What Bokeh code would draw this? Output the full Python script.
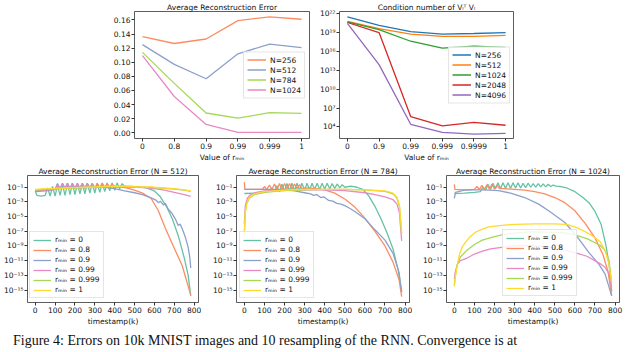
from bokeh.plotting import figure
from bokeh.layouts import column, row
from bokeh.models import (Range1d, FixedTicker, CustomJSTickFormatter, NumeralTickFormatter,
                          Legend, LegendItem, Div)
from bokeh.embed import file_html
from bokeh.resources import INLINE

# ---------------- data ----------------
# top-left: average reconstruction error vs r_min
err_labels = ["0", "0.8", "0.9", "0.99", "0.999", "1"]
err_n256 = [0.1365, 0.1266, 0.133, 0.159, 0.1645, 0.161]
err_n512 = [0.125, 0.097, 0.0766, 0.112, 0.1257, 0.1207]
err_n784 = [0.114, 0.070, 0.028, 0.0207, 0.0284, 0.0275]
err_n1024 = [0.1095, 0.0514, 0.0118, 0.0004, 0.0004, 0.0004]
err_ticks = [0.0, 0.02, 0.04, 0.06, 0.08, 0.10, 0.12, 0.14, 0.16]

# top-right: condition number (log10) vs r_min
cond_labels = ["0", "0.9", "0.99", "0.999", "0.9999", "1"]
cond_n256 = [21.48, 20.15, 19.16, 18.76, 18.85, 19.0]
cond_n512 = [20.77, 19.63, 18.76, 18.39, 18.39, 18.54]
cond_n1024 = [20.7, 19.47, 17.62, 16.54, 16.85, 16.65]
cond_n2048 = [20.6, 19.0, 5.64, 4.15, 4.72, 4.26]
cond_n4096 = [20.46, 13.9, 4.41, 3.11, 2.86, 2.96]
cond_tick_exps = [4, 7, 10, 13, 16, 19, 22]

# bottom: reconstruction error vs timestamp, as (t, log10 error)
time_ticks = [0, 100, 200, 300, 400, 500, 600, 700, 800]
recon_tick_exps = [-1, -3, -5, -7, -9, -11, -13, -15]
rmin_labels = ["rₘᵢₙ = 0", "rₘᵢₙ = 0.8", "rₘᵢₙ = 0.9", "rₘᵢₙ = 0.99",
               "rₘᵢₙ = 0.999", "rₘᵢₙ = 1"]

n512_r0 = [(0, -1.5), (8, -2.1), (30, -2.2), (50, -2.1), (62, -1.1), (75, -2.2), (87, -0.9),
           (100, -2.2), (112, -0.7), (125, -2.1), (137, -0.6), (150, -2.1), (162, -0.5),
           (175, -2.0), (187, -0.5), (200, -2.0), (212, -0.5), (225, -1.9), (237, -0.5),
           (250, -1.9), (262, -0.45), (275, -1.8), (287, -0.45), (300, -1.8), (312, -0.45),
           (325, -1.7), (337, -0.4), (350, -1.6), (362, -0.4), (375, -1.5), (387, -0.4),
           (400, -1.4), (412, -0.4), (425, -1.2), (437, -0.5), (450, -0.9), (480, -0.9),
           (520, -0.95), (560, -1.1), (600, -1.5), (630, -2.3), (660, -3.6), (690, -5.3),
           (720, -7.6), (750, -10.6), (770, -13.0), (783, -15.8)]
n512_r08 = [(0, -1.5), (50, -1.4), (100, -1.3), (112, -0.6), (125, -1.2), (137, -0.5),
            (150, -1.2), (162, -0.45), (175, -1.2), (187, -0.45), (200, -1.2), (212, -0.45),
            (225, -1.15), (237, -0.45), (250, -1.15), (262, -0.45), (275, -1.1), (287, -0.45),
            (300, -1.1), (312, -0.45), (325, -1.05), (337, -0.45), (350, -1.0), (362, -0.5),
            (375, -1.0), (387, -0.55), (400, -0.95), (420, -0.9), (460, -1.1), (500, -1.4),
            (540, -1.8), (583, -2.5), (620, -4.2), (655, -6.6), (700, -9.3), (740, -11.7),
            (783, -15.7)]
n512_r09 = [(0, -1.6), (50, -1.5), (100, -1.3), (112, -0.5), (125, -1.2), (137, -0.45),
            (150, -1.2), (162, -0.45), (175, -1.2), (187, -0.5), (200, -1.2), (212, -0.5),
            (225, -1.15), (237, -0.5), (250, -1.1), (262, -0.55), (275, -1.1), (287, -0.6),
            (300, -1.05), (320, -0.9), (350, -1.0), (400, -1.2), (450, -1.5), (500, -1.75),
            (540, -2.0), (583, -2.45), (610, -2.8), (620, -3.1), (630, -2.9), (645, -3.4),
            (655, -3.2), (670, -4.0), (687, -4.5), (705, -5.3), (720, -6.2), (730, -6.0),
            (745, -7.0), (758, -8.0), (770, -9.2), (778, -10.5), (783, -12.0)]
n512_r099 = [(0, -1.4), (50, -1.35), (100, -1.25), (112, -0.7), (125, -1.2), (137, -0.6),
             (150, -1.15), (162, -0.6), (175, -1.15), (187, -0.6), (200, -1.1), (212, -0.6),
             (225, -1.1), (237, -0.6), (250, -1.05), (262, -0.65), (275, -1.05), (287, -0.7),
             (300, -1.0), (350, -0.9), (400, -0.9), (450, -0.95), (500, -1.0), (550, -1.05),
             (600, -1.2), (650, -1.4), (700, -1.7), (750, -2.0), (783, -2.25)]
n512_r0999 = [(0, -1.4), (50, -1.3), (100, -1.25), (150, -1.15), (200, -1.1), (250, -1.05),
              (300, -1.0), (350, -0.95), (400, -0.9), (450, -0.9), (500, -0.95), (550, -1.0),
              (600, -1.05), (650, -1.15), (700, -1.25), (750, -1.4), (783, -1.55)]
n512_r1 = [(0, -1.3), (50, -1.2), (100, -1.15), (150, -1.1), (200, -1.05), (250, -1.0),
           (300, -0.95), (350, -0.9), (400, -0.85), (500, -0.9), (512, -1.0), (525, -0.88),
           (537, -1.0), (550, -0.9), (562, -1.02), (575, -0.92), (600, -1.0), (650, -1.1),
           (700, -1.2), (750, -1.35), (783, -1.5)]

n784_r0 = [(0, -1.85), (60, -1.8), (100, -1.7), (125, -1.5), (137, -1.1), (150, -1.6),
           (162, -0.8), (175, -1.6), (187, -0.6), (200, -1.5), (212, -0.5), (225, -1.5),
           (237, -0.45), (250, -1.45), (262, -0.45), (275, -1.4), (287, -0.45), (300, -1.4),
           (312, -0.45), (325, -1.35), (337, -0.45), (350, -1.3), (362, -0.45), (375, -1.3),
           (387, -0.45), (400, -1.25), (412, -0.45), (425, -1.2), (437, -0.5), (450, -1.15),
           (462, -0.55), (475, -1.1), (487, -0.65), (500, -1.0), (530, -0.85), (560, -1.0),
           (590, -1.3), (620, -2.2), (650, -3.6), (680, -5.3), (710, -7.2), (740, -9.4),
           (765, -12.2), (783, -15.2)]
n784_r08 = [(0, -0.3), (3, -1.3), (50, -1.3), (90, -1.3), (100, -0.9), (112, -1.3),
            (125, -0.7), (137, -1.3), (150, -0.55), (162, -1.3), (175, -0.5), (187, -1.3),
            (200, -0.5), (212, -1.25), (225, -0.5), (237, -1.25), (250, -0.55), (262, -1.2),
            (275, -0.65), (287, -1.2), (300, -1.1), (350, -1.15), (400, -1.35), (450, -1.8),
            (500, -2.6), (550, -3.7), (600, -5.2), (650, -7.0), (700, -9.0), (740, -11.2),
            (770, -13.6), (783, -15.9)]
n784_r09 = [(0, -1.3), (100, -1.3), (150, -1.3), (200, -1.35), (250, -1.5), (300, -1.75),
            (330, -1.9), (345, -2.1), (360, -2.0), (380, -2.4), (395, -2.3), (420, -2.8),
            (440, -2.9), (460, -3.2), (480, -3.3), (500, -3.5), (520, -3.8), (550, -4.3),
            (600, -5.3), (650, -6.8), (700, -8.2), (740, -10.0), (770, -12.6), (783, -15.3)]
n784_r099 = [(0, -6.0), (5, -3.5), (15, -2.5), (30, -2.0), (60, -1.7), (100, -1.5),
             (200, -1.4), (300, -1.35), (400, -1.35), (500, -1.45), (600, -1.75), (650, -2.0),
             (700, -2.3), (740, -2.7), (760, -3.3), (772, -4.5), (783, -8.3)]
n784_r0999 = [(0, -7.4), (4, -4.5), (12, -3.2), (25, -2.5), (50, -2.0), (100, -1.7),
              (200, -1.45), (300, -1.35), (400, -1.3), (500, -1.3), (600, -1.35), (700, -1.55),
              (740, -1.9), (760, -2.5), (772, -3.6), (783, -7.3)]
n784_r1 = [(0, -7.6), (4, -4.6), (12, -3.2), (25, -2.4), (50, -1.9), (100, -1.6),
           (200, -1.4), (300, -1.3), (400, -1.3), (500, -1.3), (600, -1.35), (700, -1.5),
           (740, -1.8), (760, -2.4), (772, -3.5), (783, -7.2)]

n1024_r0 = [(0, -1.85), (50, -1.8), (100, -1.7), (130, -1.6), (142, -1.0), (155, -1.4),
            (167, -0.6), (180, -1.3), (192, -0.45), (205, -1.2), (217, -0.4), (230, -1.2),
            (242, -0.4), (255, -1.15), (267, -0.4), (280, -1.15), (292, -0.4), (305, -1.1),
            (317, -0.4), (330, -1.1), (342, -0.45), (355, -1.05), (367, -0.45), (380, -1.0),
            (392, -0.5), (405, -1.0), (417, -0.5), (430, -0.95), (442, -0.55), (455, -0.95),
            (467, -0.6), (480, -0.9), (492, -0.7), (505, -0.85), (530, -0.9), (560, -1.1),
            (600, -1.6), (640, -2.4), (670, -3.1), (700, -4.3), (730, -6.0), (755, -9.0),
            (770, -11.5), (783, -15.2)]
n1024_r08 = [(0, -0.6), (3, -1.3), (50, -1.35), (100, -1.3), (112, -0.9), (125, -1.3),
             (137, -0.75), (150, -1.3), (162, -0.65), (175, -1.25), (187, -0.6), (200, -1.25),
             (212, -0.7), (225, -1.2), (250, -1.2), (300, -1.3), (350, -1.4), (400, -1.6),
             (450, -1.9), (500, -2.4), (550, -3.1), (600, -4.2), (650, -5.9), (700, -7.9),
             (740, -10.2), (765, -12.5), (783, -15.8)]
n1024_r09 = [(0, -2.5), (6, -1.7), (50, -1.4), (100, -1.35), (150, -1.35), (220, -1.45),
             (280, -1.8), (350, -2.4), (420, -3.3), (480, -4.4), (550, -5.8), (610, -7.7),
             (670, -9.9), (720, -11.5), (750, -12.8), (783, -15.8)]
n1024_r099 = [(0, -13.5), (5, -12.5), (15, -11.5), (30, -11.0), (60, -10.7), (100, -10.1),
              (140, -9.7), (180, -9.4), (236, -9.2), (300, -9.0), (381, -8.95), (460, -9.1),
              (542, -9.5), (600, -9.9), (660, -10.4), (725, -11.4), (750, -11.9),
              (770, -12.8), (783, -14.6)]
n1024_r0999 = [(0, -14.3), (5, -13.0), (15, -11.5), (30, -10.5), (58, -9.7), (100, -8.8),
               (139, -8.2), (190, -7.8), (236, -7.5), (300, -7.25), (381, -7.06), (460, -7.1),
               (542, -7.2), (600, -7.5), (660, -8.0), (725, -8.9), (750, -9.6), (770, -11.0),
               (783, -14.0)]
n1024_r1 = [(0, -14.5), (5, -13.2), (12, -12.0), (19, -11.0), (26, -10.1), (40, -9.1),
            (58, -8.4), (80, -7.7), (107, -7.1), (140, -6.7), (171, -6.4), (236, -6.2),
            (300, -6.05), (400, -6.0), (500, -6.0), (560, -6.05), (610, -6.5), (676, -7.4),
            (725, -8.4), (750, -9.6), (770, -11.5), (783, -14.0)]

caption_text = ("Figure 4: Errors on 10k MNIST images and 10 resampling of the RNN. "
                "Convergence is at")

# ---------------- styling ----------------
FONT = "DejaVu Sans"
SET2 = ["#66c2a5", "#fc8d62", "#8da0cb", "#e78ac3", "#a6d854", "#ffd92f"]
TAB10 = ["#1f77b4", "#ff7f0e", "#2ca02c", "#d62728", "#9467bd"]
FS = "7.5px"

sup_formatter = CustomJSTickFormatter(code="""
const s = {'-':'\u207b','0':'\u2070','1':'\u00b9','2':'\u00b2','3':'\u00b3','4':'\u2074',
           '5':'\u2075','6':'\u2076','7':'\u2077','8':'\u2078','9':'\u2079'};
const e = Math.round(Math.log10(tick));
return '10' + String(e).split('').map(c => s[c]).join('');
""")


def make_fig(width, height, bl, br, bt, bb, title, x_range, y_range, y_type="linear"):
    p = figure(width=width, height=height, x_range=x_range, y_range=y_range,
               y_axis_type=y_type, output_backend="svg", toolbar_location=None,
               min_border_left=bl, min_border_right=br, min_border_top=bt,
               min_border_bottom=bb, title=title)
    p.title.text_font = FONT
    p.title.text_font_size = FS
    p.title.text_font_style = "normal"
    p.title.text_color = "#111111"
    p.title.align = "center"
    p.title.standoff = 0
    p.title.offset = 0
    p.grid.visible = False
    p.outline_line_color = "#333333"
    p.outline_line_width = 0.8
    p.background_fill_color = "white"
    p.border_fill_color = "white"
    for ax in p.axis:
        ax.axis_line_color = None
        ax.major_tick_line_color = "#333333"
        ax.major_tick_out = 3
        ax.major_tick_in = 0
        ax.minor_tick_line_color = None
        ax.major_label_text_font = FONT
        ax.major_label_text_font_size = FS
        ax.major_label_text_color = "#111111"
        ax.major_label_standoff = 1
        ax.axis_label_text_font = FONT
        ax.axis_label_text_font_size = FS
        ax.axis_label_text_font_style = "normal"
        ax.axis_label_text_color = "#111111"
        ax.axis_label_standoff = 1
    return p


def add_legend(p, items, loc, glyph_w=16, margin=0):
    lg = Legend(items=items, location=loc)
    lg.label_text_font = FONT
    lg.label_text_font_size = FS
    lg.label_text_color = "#111111"
    lg.glyph_width = glyph_w
    lg.glyph_height = 8
    lg.label_height = 8
    lg.label_standoff = 4
    lg.spacing = 1
    lg.padding = 3
    lg.margin = margin
    lg.border_line_color = "#cccccc"
    lg.border_line_width = 0.8
    lg.background_fill_alpha = 0.85
    p.add_layout(lg)


# ---------------- top-left ----------------
p1 = make_fig(311, 164, 134, 2, 9, 26, "Average Reconstruction Error",
              Range1d(-0.25, 5.25), Range1d(-0.0082, 0.172))
p1.xaxis.ticker = FixedTicker(ticks=list(range(len(err_labels))))
p1.xaxis.major_label_overrides = {i: s for i, s in enumerate(err_labels)}
p1.yaxis.ticker = FixedTicker(ticks=err_ticks)
p1.yaxis.formatter = NumeralTickFormatter(format="0.00")
p1.xaxis.axis_label = "Value of rₘᵢₙ"
xs1 = list(range(len(err_labels)))
items = []
for lab, vals, col in [("N=256", err_n256, SET2[1]), ("N=512", err_n512, SET2[2]),
                       ("N=784", err_n784, SET2[4]), ("N=1024", err_n1024, SET2[3])]:
    r = p1.line(xs1, vals, line_color=col, line_width=1.3)
    items.append(LegendItem(label=lab, renderers=[r]))
add_legend(p1, items, "right", glyph_w=19, margin=4)

# ---------------- top-right ----------------
p2 = make_fig(313, 164, 28, 111, 9, 26, "Condition number of Vₗᵀ Vₗ",
              Range1d(-0.25, 5.25), Range1d(10 ** 2.15, 10 ** 22.35), y_type="log")
p2.xaxis.ticker = FixedTicker(ticks=list(range(len(cond_labels))))
p2.xaxis.major_label_overrides = {i: s for i, s in enumerate(cond_labels)}
p2.yaxis.ticker = FixedTicker(ticks=[10.0 ** e for e in cond_tick_exps])
p2.yaxis.formatter = sup_formatter
p2.xaxis.axis_label = "Value of rₘᵢₙ"
xs2 = list(range(len(cond_labels)))
items = []
for lab, vals, col in [("N=256", cond_n256, TAB10[0]), ("N=512", cond_n512, TAB10[1]),
                       ("N=1024", cond_n1024, TAB10[2]), ("N=2048", cond_n2048, TAB10[3]),
                       ("N=4096", cond_n4096, TAB10[4])]:
    r = p2.line(xs2, [10.0 ** v for v in vals], line_color=col, line_width=1.3)
    items.append(LegendItem(label=lab, renderers=[r]))
add_legend(p2, items, "right", glyph_w=19, margin=3)


# ---------------- bottom row ----------------
def recon_fig(width, bl, br, n, curves, legend_loc):
    p = make_fig(width, 164, bl, br, 9, 25, f"Average Reconstruction Error (N = {n})",
                 Range1d(-39, 822), Range1d(10 ** -16.7, 10 ** 0.6), y_type="log")
    p.xaxis.ticker = FixedTicker(ticks=time_ticks)
    p.yaxis.ticker = FixedTicker(ticks=[10.0 ** e for e in recon_tick_exps])
    p.yaxis.formatter = sup_formatter
    p.xaxis.axis_label = "timestamp(k)"
    its = []
    for lab, pts, col in zip(rmin_labels, curves, SET2):
        r = p.line([t for t, _ in pts], [10.0 ** e for _, e in pts],
                   line_color=col, line_width=1.3)
        its.append(LegendItem(label=lab, renderers=[r]))
    add_legend(p, its, legend_loc, glyph_w=18)
    return p


p3 = recon_fig(201, 25, 3, 512,
               [n512_r0, n512_r08, n512_r09, n512_r099, n512_r0999, n512_r1], (2, 4))
p4 = recon_fig(211, 35, 3, 784,
               [n784_r0, n784_r08, n784_r09, n784_r099, n784_r0999, n784_r1], (3, 4))
p5 = recon_fig(211, 34, 4, 1024,
               [n1024_r0, n1024_r08, n1024_r09, n1024_r099, n1024_r0999, n1024_r1], (56, 6))

caption = Div(
    text=('<div style="font-family:\'Liberation Serif\',serif;font-size:14px;'
          'line-height:14px;white-space:nowrap;padding-left:8px;'
          'color:#111111">' + caption_text + '</div>'),
    width=624, height=8, styles={"overflow": "visible"})

layout = column(row(p1, p2), row(p3, p4, p5), caption)

with open("out.html", "w") as f:
    f.write(file_html(layout, INLINE))
